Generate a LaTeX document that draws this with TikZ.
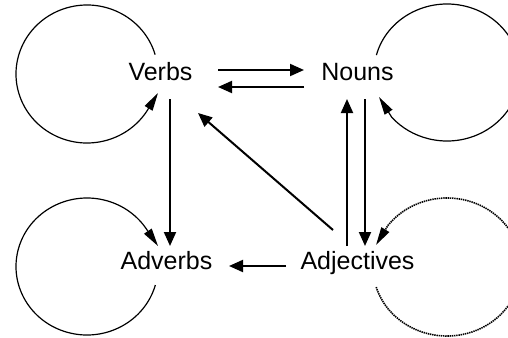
\documentclass[tikz,border=0pt]{standalone}
\usepackage{fontspec}
\setmainfont{Liberation Sans}
\usetikzlibrary{arrows.meta,calc}
\begin{document}
\begin{tikzpicture}[x=1pt,y=1pt,
  word/.style={inner sep=0pt,anchor=base,font=\fontsize{25}{30}\selectfont},
  conn/.style={line width=2pt,-{Triangle[length=14pt,width=12pt]}},
  loopline/.style={line width=1.2pt,-{Triangle[length=18pt,width=9pt]}},
  dotloop/.style={loopline,line width=1.6pt,dash pattern=on 1.4pt off 0.8pt}]
\useasboundingbox (0,0) rectangle (508,-337);
\clip (0,0) rectangle (508,-337);
\node[word] (Verbs) at (160.5,-80) {Verbs};
\node[word] (Nouns) at (357.5,-80) {Nouns};
\node[word] (Adverbs) at (166.5,-269) {Adverbs};
\node[word] (Adjectives) at (357.5,-269) {Adjectives};
% loop centres and tips
\coordinate (cV) at ($(Verbs.base)+(-73.5,6)$);
\coordinate (tV) at ($(Verbs.base)+(-2.5,-13)$);
\coordinate (cN) at ($(Nouns.base)+(89.5,7.5)$);
\coordinate (tN) at ($(Nouns.base)+(21.5,-17)$);
\coordinate (cA) at ($(Adverbs.base)+(-79.5,2.5)$);
\coordinate (tA) at ($(Adverbs.base)+(-8.5,23)$);
\coordinate (cJ) at ($(Adjectives.base)+(89.5,2)$);
\coordinate (tJ) at ($(Adjectives.base)+(18.5,24)$);
% straight connectors
\draw[conn] ($(Verbs.base)+(57.5,10)$) -- ($(Nouns.base)+(-53.5,10)$);
\draw[conn] ($(Nouns.base)+(-53.5,-7)$) -- ($(Verbs.base)+(57.5,-7)$);
\draw[conn] ($(Verbs.base)+(9.5,-19)$) -- ($(Adverbs.base)+(3.5,23)$);
\draw[conn] ($(Adjectives.base)+(-71.5,3)$) -- ($(Adverbs.base)+(62.5,3)$);
\draw[conn] ($(Adjectives.base)+(-24.5,39)$) -- ($(Verbs.base)+(37.5,-33)$);
\draw[conn] ($(Adjectives.base)+(-10.5,23)$) -- ($(Nouns.base)+(-10.5,-19)$);
\draw[conn] ($(Nouns.base)+(7.5,-19)$) -- ($(Adjectives.base)+(7.5,23)$);
% loops
\draw[loopline] ($(cV)+(16.3:71 and 69)$) arc[start angle=16.3,end angle=328.4,x radius=71,y radius=69] -- (tV);
\draw[loopline] ($(cN)+(165.3:73 and 68.5)$) arc[start angle=165.3,end angle=-139.2,x radius=73,y radius=68.5] -- (tN);
\draw[loopline] ($(cA)+(-15.7:71 and 68.5)$) arc[start angle=-15.7,end angle=-327.8,x radius=71,y radius=68.5] -- (tA);
\draw[dotloop] ($(cJ)+(196.9:74 and 69)$) arc[start angle=196.9,end angle=503,x radius=74,y radius=69] -- (tJ);
\end{tikzpicture}
\end{document}
